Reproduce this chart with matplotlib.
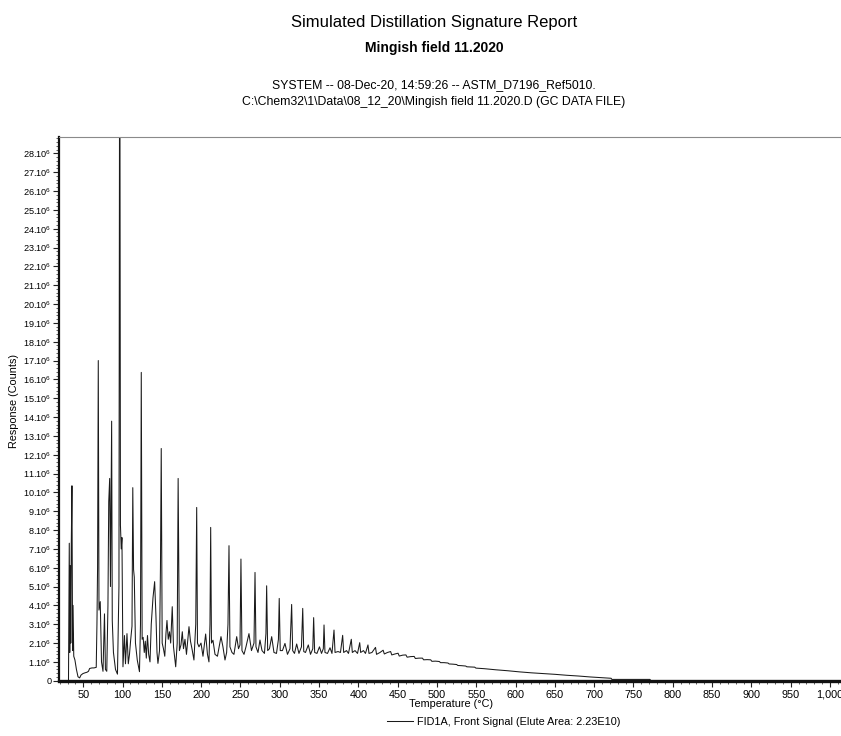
import matplotlib
matplotlib.use("Agg")
import matplotlib.pyplot as plt
from matplotlib.ticker import MultipleLocator, FixedLocator

plt.rcParams['font.family'] = ['Liberation Sans', 'DejaVu Sans']
plt.rcParams['mathtext.fontset'] = 'custom'
plt.rcParams['mathtext.rm'] = 'Liberation Sans'
plt.rcParams['mathtext.it'] = 'Liberation Sans'
plt.rcParams['mathtext.default'] = 'regular'

# FID signal trace: oven temperature (deg C) and response (millions of counts)
temperature_c = [
    31.2, 32.2, 32.8, 33.5, 34.1, 34.7, 35.6, 36.4, 37.0, 37.9, 39.4, 41.3, 43.3,
    45.4, 47.1, 49.6, 52.2, 54.7, 56.6, 58.1, 61.1, 63.6, 66.5, 67.4, 68.2, 69.1,
    70.0, 71.6, 73.2, 75.1, 77.0, 78.2, 79.9, 81.4, 82.4, 83.6, 84.6, 86.1, 86.9,
    88.4, 91.0, 93.5, 95.4, 96.4, 97.3, 98.3, 99.2, 100.5, 102.4, 103.7, 105.6,
    107.3, 108.8, 110.3, 112.0, 113.0, 114.0, 114.9, 116.4, 118.7, 121.5, 122.8,
    123.8, 124.9, 126.2, 127.6, 128.9, 130.2, 131.7, 133.2, 134.9, 136.5, 138.7,
    140.8, 142.5, 143.8, 145.0, 147.0, 148.2, 149.2, 150.4, 152.0, 153.7, 155.2,
    156.5, 158.1, 159.7, 161.2, 163.2, 164.8, 167.6, 169.5, 170.7, 172.3, 174.3,
    176.0, 177.5, 179.4, 181.3, 184.5, 186.4, 188.3, 190.8, 193.1, 194.3, 195.3,
    197.2, 199.8, 202.3, 205.7, 208.0, 209.9, 211.2, 212.1, 213.1, 215.0, 217.6,
    220.7, 225.2, 227.7, 230.3, 232.4, 234.1, 235.4, 236.6, 239.2, 241.7, 245.2,
    247.5, 249.4, 250.6, 251.9, 254.5, 257.0, 260.8, 264.0, 267.2, 268.5, 269.7,
    272.3, 274.8, 277.4, 280.5, 282.4, 283.3, 284.6, 286.9, 289.7, 292.6, 295.8,
    298.3, 299.3, 300.6, 303.4, 306.6, 309.8, 313.0, 315.1, 316.4, 318.7, 321.5,
    324.4, 327.6, 329.2, 330.5, 332.7, 336.3, 339.1, 342.0, 343.1, 344.4, 347.3,
    350.5, 353.1, 355.4, 356.3, 357.5, 360.7, 363.9, 366.4, 369.0, 370.3, 374.1,
    377.2, 380.0, 381.3, 384.9, 387.4, 391.0, 392.3, 395.7, 398.9, 401.7, 402.9,
    406.5, 409.0, 412.2, 413.5, 417.3, 421.8, 423.1, 427.5, 431.5, 433.0, 437.0,
    441.0, 442.5, 446.5, 450.5, 452.0, 456.5, 460.5, 462.0, 466.5, 471.0, 472.5,
    477.0, 481.5, 483.0, 487.5, 492.0, 493.5, 498.0, 503.0, 504.5, 509.0, 514.0,
    515.5, 520.0, 525.0, 526.5, 531.0, 536.5, 538.0, 548.0, 549.5, 560.0, 575.0,
    590.0, 605.0, 620.0, 635.0, 650.0, 665.0, 680.0, 695.0, 710.0, 721.5, 722.5,
    771.0, 772.0, 1014.0,
]
response_mcounts = [
    0.0, 7.3, 1.5, 6.1, 2.0, 7.0, 10.35, 1.6, 4.0, 1.3, 1.1, 0.6, 0.21,
    0.15, 0.3, 0.38, 0.42, 0.45, 0.5, 0.65, 0.68, 0.68, 0.71, 3.0, 6.0, 17.0,
    3.75, 4.2, 1.0, 0.5, 3.55, 0.6, 0.5, 4.0, 9.5, 10.74, 5.0, 13.78, 3.2,
    1.5, 0.6, 0.35, 5.0, 40.0, 8.26, 7.0, 7.6, 0.74, 2.4, 0.9, 2.5,
    0.9, 1.4, 2.16, 2.9, 10.25, 5.9, 5.5, 2.0, 1.1, 0.48, 3.0,
    16.37, 2.2, 2.3, 1.5, 2.1, 1.2, 2.4, 1.4, 1.0, 3.0, 4.4,
    5.26, 3.4, 1.5, 0.92, 1.6, 6.0, 12.33, 2.0, 1.7, 1.3, 2.5,
    3.2, 2.2, 2.6, 2.0, 3.93, 1.8, 0.74, 2.0, 10.74, 1.6, 1.9,
    2.6, 1.7, 2.2, 1.4, 2.87, 2.1, 1.7, 1.1, 3.0, 9.2, 2.0,
    1.8, 2.0, 1.3, 2.48, 1.4, 1.0, 3.0, 8.14, 2.0, 2.15, 1.4,
    1.3, 2.34, 1.8, 1.1, 1.5, 3.0, 7.17, 1.8, 1.5, 1.4, 2.34,
    1.7, 1.9, 6.46, 1.6, 1.4, 1.8, 2.5, 1.6, 2.0, 5.75, 1.8,
    1.5, 2.16, 1.6, 1.45, 2.5, 5.04, 1.6, 1.7, 2.34, 1.5, 1.45,
    2.2, 4.37, 1.6, 1.6, 1.98, 1.4, 1.7, 4.05, 1.6, 1.45, 1.95,
    1.45, 1.8, 3.84, 1.55, 1.5, 1.9, 1.4, 1.7, 3.35, 1.5, 1.45,
    1.8, 1.45, 1.7, 2.96, 1.5, 1.45, 1.75, 1.45, 2.69, 1.5, 1.55,
    1.5, 2.41, 1.5, 1.6, 1.45, 2.2, 1.5, 1.6, 1.45, 2.02, 1.5,
    1.6, 1.45, 1.9, 1.45, 1.5, 1.77, 1.4, 1.5, 1.62, 1.42, 1.5,
    1.55, 1.37, 1.42, 1.46, 1.31, 1.36, 1.37, 1.25, 1.28, 1.29, 1.18,
    1.2, 1.2, 1.11, 1.12, 1.11, 1.03, 1.04, 1.02, 0.96, 0.96, 0.94,
    0.89, 0.88, 0.86, 0.81, 0.8, 0.78, 0.74, 0.72, 0.67, 0.64, 0.58,
    0.53, 0.47, 0.42, 0.38, 0.34, 0.29, 0.25, 0.2, 0.16, 0.13, 0.07,
    0.07, 0.0, 0.0,
]

x_major_ticks = list(range(50, 1001, 50))
x_tick_labels = [f"{t:,}" for t in x_major_ticks]
y_major_ticks = list(range(0, 29))
y_tick_labels = ["0"] + [f"{n}.10$^{{6}}$" for n in y_major_ticks[1:]]

title_main = "Simulated Distillation Signature Report"
title_sample = "Mingish field 11.2020"
info_line1 = "SYSTEM -- 08-Dec-20, 14:59:26 -- ASTM_D7196_Ref5010."
info_line2 = "C:\\Chem32\\1\\Data\\08_12_20\\Mingish field 11.2020.D (GC DATA FILE)"
series_label = "FID1A, Front Signal (Elute Area: 2.23E10)"

fig = plt.figure(figsize=(8.41, 7.36), dpi=100)
ax = fig.add_axes([0.0705, 0.0751, 0.9295, 0.7383])

line, = ax.plot(temperature_c, response_mcounts, color="#1a1a1a", lw=0.75,
                label=series_label)

ax.set_xlim(19.5, 1014)
ax.set_ylim(0, 28.85)

ax.xaxis.set_major_locator(FixedLocator(x_major_ticks))
ax.set_xticklabels(x_tick_labels)
ax.xaxis.set_minor_locator(MultipleLocator(10))
ax.yaxis.set_major_locator(FixedLocator(y_major_ticks))
ax.set_yticklabels(y_tick_labels)
ax.yaxis.set_minor_locator(MultipleLocator(0.2))

ax.tick_params(axis="both", which="major", direction="out", length=4, width=0.8,
               labelsize=6.6, pad=1.5, color="#222222")
ax.tick_params(axis="both", which="minor", direction="out", length=2, width=0.6,
               color="#444444")
ax.tick_params(axis="x", which="major", pad=2.5, labelsize=7.8)

ax.spines["right"].set_visible(False)
ax.spines["top"].set_color("#8a8a8a")
ax.spines["top"].set_linewidth(0.8)
ax.spines["left"].set_linewidth(1.6)
ax.spines["left"].set_color("#111111")
ax.spines["bottom"].set_linewidth(2.4)
ax.spines["bottom"].set_color("#111111")

fig.text(14 / 841, 1 - 401 / 736, "Response (Counts)", rotation=90,
         ha="center", va="center", fontsize=7.8)
fig.text(451 / 841, 1 - 704 / 736, "Temperature (°C)", ha="center",
         va="center", fontsize=7.8)

fig.legend(handles=[line], loc="center left",
           bbox_to_anchor=(387 / 841, 1 - 722 / 736), frameon=False,
           fontsize=7.8, handlelength=2.4, handletextpad=0.4, borderpad=0,
           borderaxespad=0)

fig.text(434 / 841, 1 - 22 / 736, title_main, ha="center", va="center",
         fontsize=12)
fig.text(434 / 841, 1 - 48 / 736, title_sample, ha="center", va="center",
         fontsize=10, fontweight="bold")
fig.text(434 / 841, 1 - 85 / 736, info_line1, ha="center", va="center",
         fontsize=8.8)
fig.text(434 / 841, 1 - 102 / 736, info_line2, ha="center", va="center",
         fontsize=8.8)

fig.savefig("out.png", dpi=100)
